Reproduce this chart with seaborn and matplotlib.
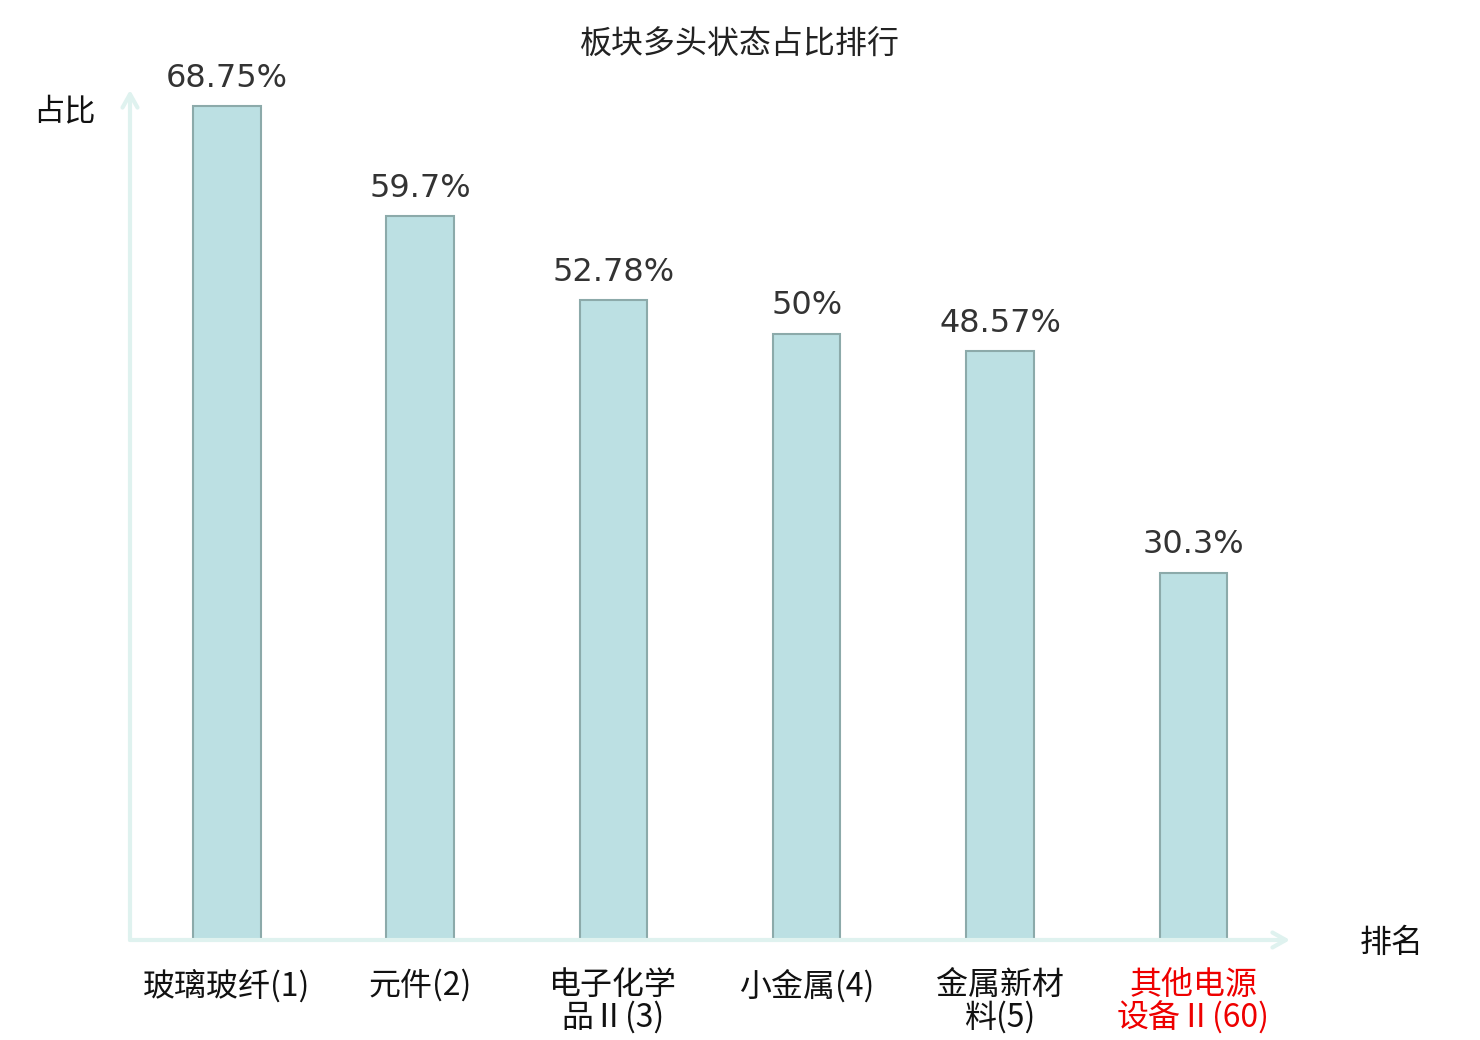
import seaborn as sns
import matplotlib.pyplot as plt
import pandas as pd

sectors = ["玻璃玻纤(1)", "元件(2)", "电子化学\n品Ⅱ(3)", "小金属(4)", "金属新材\n料(5)", "其他电源\n设备Ⅱ(60)"]
ratios = [68.75, 59.7, 52.78, 50, 48.57, 30.3]
value_labels = ["68.75%", "59.7%", "52.78%", "50%", "48.57%", "30.3%"]
label_colors = ["#111111", "#111111", "#111111", "#111111", "#111111", "#ee0000"]

df = pd.DataFrame({"sector": sectors, "ratio": ratios})

sns.set_theme(style="white")
plt.rcParams['font.family'] = ['Noto Sans CJK SC', 'DejaVu Sans']

fig = plt.figure(figsize=(14.8, 10.4), dpi=100)
ax = fig.add_axes([130 / 1480, 100 / 1040, 1160 / 1480, 850 / 1040])

sns.barplot(data=df, x="sector", y="ratio", color="#bce0e3", width=0.35,
            edgecolor="#8caaaa", linewidth=1.5, saturation=1, ax=ax)

ax.set_xlim(-0.5, 5.5)
ax.set_ylim(0, 70.1)
for s in ax.spines.values():
    s.set_visible(False)
ax.set_yticks([])
ax.set_xlabel("")
ax.set_ylabel("")
ax.tick_params(axis="x", length=0, pad=21)
ax.set_xticks(range(len(sectors)))
ax.set_xticklabels(sectors, fontsize=23, linespacing=1.0, va="top")
for lbl, c in zip(ax.get_xticklabels(), label_colors):
    lbl.set_color(c)

for i, (v, t) in enumerate(zip(ratios, value_labels)):
    ax.annotate(t, (i, v), xytext=(0, 9), textcoords="offset points",
                ha="center", va="bottom", fontsize=23, color="#333333",
                family="DejaVu Sans")

axis_color = "#dff2ef"
arrow = dict(arrowstyle="->,head_length=0.8,head_width=0.45", color=axis_color, lw=3,
             shrinkA=0, shrinkB=0)
ax.annotate("", xy=(0, 1), xytext=(0, 0), xycoords="axes fraction",
            arrowprops=arrow, annotation_clip=False)
ax.annotate("", xy=(1, 0), xytext=(0, 0), xycoords="axes fraction",
            arrowprops=arrow, annotation_clip=False)

fig.text(740 / 1480, 1 - 45 / 1040, "板块多头状态占比排行", ha="center", va="center",
         fontsize=23, color="#222222")
fig.text(64 / 1480, 1 - 111 / 1040, "占比", ha="center", va="center",
         fontsize=22.5, color="#111111")
fig.text(1392 / 1480, 1 - 943 / 1040, "排名", ha="center", va="center",
         fontsize=23, color="#111111")

fig.savefig("out.png", dpi=100)
